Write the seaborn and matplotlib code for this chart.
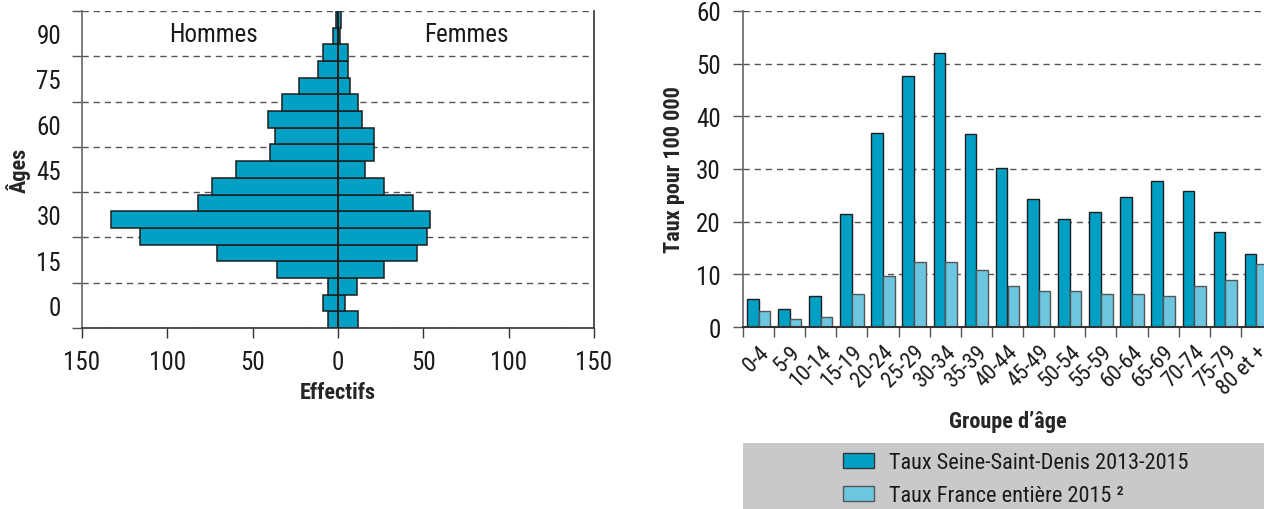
import numpy as np
import pandas as pd
import matplotlib
matplotlib.use('Agg')
import matplotlib.pyplot as plt
from matplotlib import font_manager
from matplotlib.patches import Patch, Rectangle
import seaborn as sns

# pyramid data (effectifs par groupe d'age, 5 ans)
pyr_groups = ['0-4', '5-9', '10-14', '15-19', '20-24', '25-29', '30-34', '35-39',
              '40-44', '45-49', '50-54', '55-59', '60-64', '65-69', '70-74',
              '75-79', '80-84', '85-89', '90+']
hommes = [6, 9, 6, 36, 71, 116, 133, 82, 74, 60, 40, 37, 41, 33, 23, 12, 9, 3, 1]
femmes = [12, 4, 11, 27, 46, 52, 54, 44, 27, 16, 21, 21, 14, 12, 7, 6, 6, 1, 2]
age_ticks = [0, 15, 30, 45, 60, 75, 90]

# taux pour 100 000
groupes = ['0-4', '5-9', '10-14', '15-19', '20-24', '25-29', '30-34', '35-39',
           '40-44', '45-49', '50-54', '55-59', '60-64', '65-69', '70-74',
           '75-79', '80 et +']
taux_ssd = [5.3, 3.4, 5.8, 21.5, 36.9, 47.7, 52.0, 36.6, 30.2, 24.3, 20.6,
            21.9, 24.6, 27.7, 25.8, 18.1, 13.9]
taux_fr = [3.1, 1.6, 1.9, 6.2, 9.6, 12.3, 12.3, 10.8, 7.7, 6.8, 6.8,
           6.2, 6.2, 5.9, 7.7, 8.9, 12.0]
serie_names = ['Taux Seine-Saint-Denis 2013-2015', 'Taux France entière 2015 ²']

dark = '#00a0c4'
light = '#6cc6e0'
edge = '#1e1e1e'
grid_col = '#555555'

sns.set_theme(style='white')

# look for a narrow font, the original uses a condensed grotesque
narrow = None
stretch = 'normal'
for fam, st in [('Liberation Sans Narrow', 'normal'), ('Roboto Condensed', 'normal'),
                ('Open Sans Condensed', 'normal'), ('DejaVu Sans', 'condensed'),
                ('Roboto', 'condensed'), ('Open Sans', 'condensed')]:
    try:
        path = font_manager.findfont(font_manager.FontProperties(family=fam, stretch=st),
                                     fallback_to_default=False)
    except Exception:
        continue
    low = path.lower()
    if st == 'normal' or 'condensed' in low or 'narrow' in low:
        narrow, stretch = fam, st
        break

if narrow is not None:
    plt.rcParams['font.family'] = [narrow, 'DejaVu Sans']
    plt.rcParams['font.stretch'] = stretch
    fs = 1.0
else:
    plt.rcParams['font.family'] = ['Liberation Sans', 'DejaVu Sans']
    fs = 0.75
plt.rcParams['text.color'] = '#1a1a1a'
plt.rcParams['xtick.color'] = '#1a1a1a'
plt.rcParams['ytick.color'] = '#1a1a1a'

fig = plt.figure(figsize=(12.64, 5.10), dpi=100)
W, H = 1264, 510
ax1 = fig.add_axes([82 / W, (H - 329) / H, 512 / W, 317 / H])
ax2 = fig.add_axes([743 / W, (H - 328) / H, 529 / W, 316 / H])

# ---------- pyramide ----------
n = len(pyr_groups)
def age_to_idx(a):
    # axis runs from -7.5 to 97.5 years over the 19 bars
    return -0.5 + (np.asarray(a) + 7.5) * n / 105.0

pyr = pd.DataFrame({'groupe': pyr_groups, 'h': -np.array(hommes), 'f': femmes})
sns.barplot(data=pyr, x='h', y='groupe', orient='h', color=dark, width=1.0,
            edgecolor=edge, linewidth=1.1, errorbar=None, saturation=1, ax=ax1)
sns.barplot(data=pyr, x='f', y='groupe', orient='h', color=dark, width=1.0,
            edgecolor=edge, linewidth=1.1, errorbar=None, saturation=1, ax=ax1)
ax1.axvline(0, color=edge, lw=1.3, zorder=5)

ax1.set_ylim(-0.5, n - 0.5)
ax1.set_xlim(-150, 150)
ax1.set_xticks([-150, -100, -50, 0, 50, 100, 150])
ax1.set_xticklabels(['150', '100', '50', '0', '50', '100', '150'], fontsize=18 * fs)
ax1.set_yticks(age_to_idx(age_ticks))
ax1.set_yticklabels([str(a) for a in age_ticks], fontsize=18 * fs)
ax1.set_yticks(age_to_idx(np.arange(-7.5, 98, 15)), minor=True)
ax1.tick_params(axis='y', which='major', length=0, pad=15)
ax1.tick_params(axis='y', which='minor', length=7, width=1, color='#555555', left=True)
ax1.tick_params(axis='x', which='major', length=7, width=1, color='#333333', bottom=True, pad=9)
ax1.grid(False)
ax1.grid(axis='y', which='minor', color=grid_col, linestyle=(0, (4.5, 3.5)), lw=1)
ax1.set_axisbelow(True)
for s in ['left', 'bottom', 'right']:
    ax1.spines[s].set_visible(True)
    ax1.spines[s].set_linewidth(1.2)
ax1.spines['left'].set_color('#666666')
ax1.spines['bottom'].set_color('#333333')
ax1.spines['right'].set_color('#333333')
ax1.spines['top'].set_visible(False)
ax1.set_xlabel('Effectifs', fontsize=16 * fs, fontweight='bold', labelpad=5)
ax1.set_ylabel('Âges', fontsize=16 * fs, fontweight='bold', labelpad=4)
ax1.text(-73, age_to_idx(90), 'Hommes', ha='center', va='center', fontsize=18 * fs)
ax1.text(75, age_to_idx(90), 'Femmes', ha='center', va='center', fontsize=18 * fs)

# ---------- taux ----------
df = pd.DataFrame({
    'groupe': groupes * 2,
    'taux': taux_ssd + taux_fr,
    'serie': [serie_names[0]] * len(groupes) + [serie_names[1]] * len(groupes),
})
sns.barplot(data=df, x='groupe', y='taux', hue='serie', palette=[dark, light],
            width=0.75, gap=0, errorbar=None, saturation=1, legend=False,
            edgecolor=edge, linewidth=1, ax=ax2)
for bar in ax2.containers[1]:
    bar.set_edgecolor('#555555')

ax2.set_xlim(-0.5, len(groupes) - 0.5)
ax2.set_ylim(0, 60)
ax2.set_yticks(np.arange(0, 61, 10))
ax2.tick_params(axis='y', labelsize=18 * fs, length=7, width=1, color='#555555', left=True, pad=9)
ax2.set_xticks(np.arange(len(groupes)))
ax2.set_xticklabels(groupes, rotation=45, ha='right', rotation_mode='anchor', fontsize=16 * fs)
ax2.set_xticks(np.arange(-0.5, len(groupes)), minor=True)
ax2.tick_params(axis='x', which='major', length=0, pad=10)
ax2.tick_params(axis='x', which='minor', length=7, width=1, color='#555555', bottom=True)
ax2.grid(False)
ax2.grid(axis='y', color=grid_col, linestyle=(0, (4.5, 3.5)), lw=1)
ax2.set_axisbelow(True)
ax2.spines['left'].set_visible(True)
ax2.spines['left'].set_color('#666666')
ax2.spines['left'].set_linewidth(1.2)
ax2.spines['bottom'].set_visible(True)
ax2.spines['bottom'].set_color('#333333')
ax2.spines['bottom'].set_linewidth(1.5)
ax2.spines['top'].set_visible(False)
ax2.spines['right'].set_visible(False)
ax2.set_xlabel('Groupe d’âge', fontsize=16 * fs, fontweight='bold')
ax2.xaxis.set_label_coords(0.5, -(422 - 328) / 316, transform=ax2.transAxes)
ax2.xaxis.label.set_va('center')
ax2.set_ylabel('Taux pour 100 000', fontsize=16 * fs, fontweight='bold', labelpad=8)

# legend box
fig.add_artist(Rectangle((743 / W, 0), 521 / W, 66 / H, transform=fig.transFigure,
                         facecolor='#c8c9cb', edgecolor='none', zorder=0))
handles = [Patch(facecolor=dark, edgecolor='#333333'),
           Patch(facecolor=light, edgecolor='#555555')]
fig.legend(handles, serie_names, loc='center left', bbox_to_anchor=(832 / W, 30 / H),
           frameon=False, fontsize=16 * fs, borderpad=0, handlelength=1.4,
           handleheight=0.65, handletextpad=0.65, labelspacing=0.55)

fig.savefig('out.png', dpi=100)
